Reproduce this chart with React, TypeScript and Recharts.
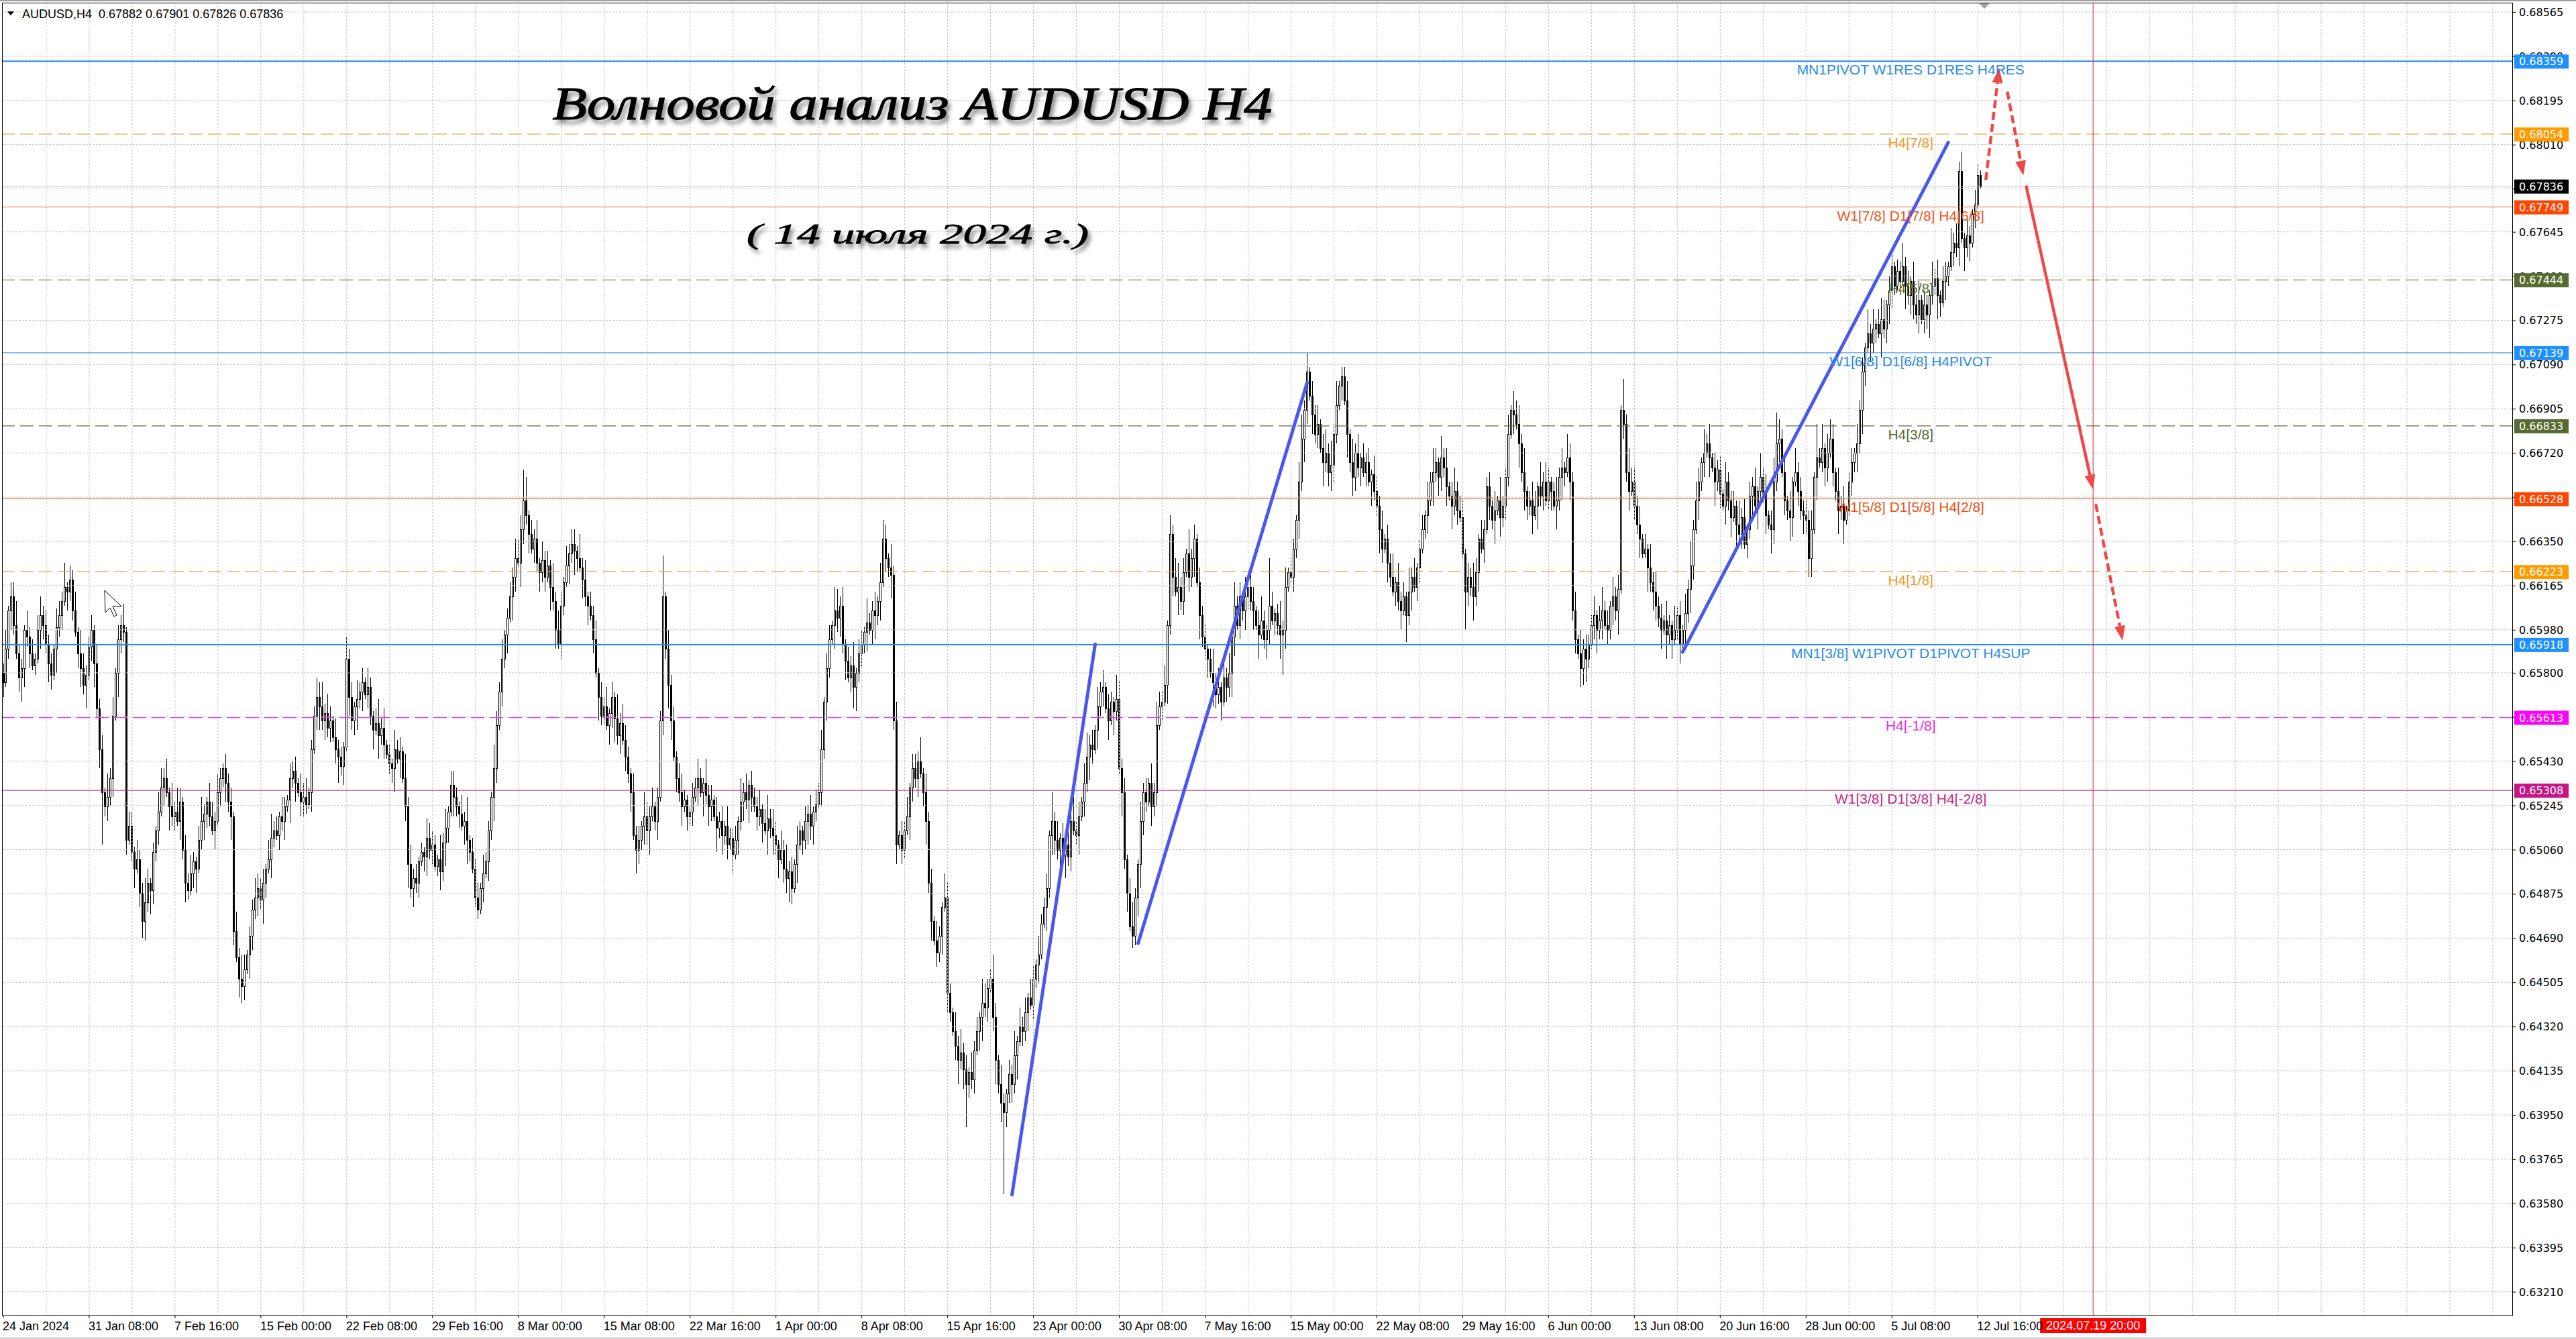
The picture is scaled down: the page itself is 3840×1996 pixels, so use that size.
import React from 'react';
import {
  ComposedChart,
  Bar,
  XAxis,
  YAxis,
  ReferenceLine,
  ReferenceDot,
} from 'recharts';

// AUDUSD H4, one slot per 4h bar starting 24 Jan 2024 00:00; slots past the last bar are the empty future area
const SLOTS = 936;
const FIRST_OPEN = 6580;
const WICK_PIPS_PER_DIGIT = 2;

// closes in pips (price * 10000), 16 bars per row
const closePips: number[] = [
  6576, 6590, 6606, 6612, 6600, 6588, 6578, 6582, 6598, 6595, 6588, 6583, 6586, 6598, 6604, 6600,
  6592, 6584, 6579, 6590, 6599, 6604, 6610, 6616, 6614, 6619, 6606, 6597, 6588, 6582, 6575, 6579,
  6591, 6598, 6584, 6565, 6548, 6530, 6524, 6528, 6536, 6562, 6580, 6594, 6600, 6597, 6510, 6516,
  6505, 6498, 6502, 6488, 6476, 6484, 6492, 6489, 6505, 6514, 6522, 6532, 6536, 6530, 6524, 6520,
  6522, 6518, 6526, 6506, 6492, 6489, 6496, 6501, 6498, 6510, 6518, 6521, 6526, 6520, 6514, 6518,
  6530, 6536, 6540, 6534, 6526, 6520, 6472, 6461, 6452, 6449, 6456, 6462, 6470, 6481, 6486, 6490,
  6485, 6492, 6498, 6502, 6511, 6514, 6512, 6520, 6518, 6524, 6527, 6536, 6539, 6534, 6530, 6526,
  6528, 6525, 6530, 6548, 6562, 6570, 6566, 6560, 6563, 6557, 6560, 6553, 6548, 6545, 6541, 6549,
  6586, 6570, 6560, 6566, 6569, 6572, 6576, 6571, 6574, 6562, 6556, 6559, 6554, 6557, 6550, 6546,
  6542, 6540, 6548, 6544, 6547, 6536, 6524, 6500, 6490, 6494, 6492, 6501, 6505, 6503, 6511, 6506,
  6508, 6499, 6502, 6497, 6509, 6515, 6522, 6533, 6528, 6524, 6521, 6516, 6518, 6510, 6505, 6498,
  6486, 6481, 6490, 6496, 6501, 6514, 6528, 6540, 6558, 6572, 6586, 6596, 6603, 6612, 6620, 6628,
  6626, 6640, 6652, 6646, 6638, 6632, 6636, 6626, 6622, 6627, 6620, 6625, 6616, 6610, 6598, 6592,
  6608, 6618, 6625, 6630, 6634, 6631, 6628, 6624, 6619, 6612, 6608, 6604, 6594, 6580, 6570, 6562,
  6566, 6558, 6563, 6570, 6561, 6554, 6559, 6552, 6545, 6538, 6530, 6512, 6506, 6510, 6516, 6520,
  6514, 6520, 6524, 6518, 6528, 6560, 6612, 6590, 6575, 6560, 6545, 6536, 6530, 6524, 6527, 6520,
  6522, 6528, 6532, 6536, 6530, 6534, 6529, 6524, 6527, 6520, 6515, 6518, 6512, 6516, 6508, 6511,
  6504, 6510, 6518, 6526, 6530, 6527, 6533, 6528, 6524, 6520, 6523, 6517, 6514, 6519, 6515, 6512,
  6508, 6502, 6506, 6498, 6494, 6497, 6490, 6500, 6508, 6514, 6510, 6518, 6521, 6516, 6522, 6525,
  6530, 6548, 6568, 6582, 6594, 6600, 6606, 6603, 6608, 6592, 6585, 6578, 6583, 6574, 6580, 6588,
  6592, 6597, 6601, 6598, 6606, 6604, 6610, 6618, 6636, 6628, 6624, 6621, 6560, 6508, 6512, 6506,
  6514, 6520, 6532, 6540, 6536, 6543, 6538, 6530, 6518, 6492, 6476, 6468, 6463, 6470, 6482, 6486,
  6446, 6438, 6430, 6424, 6418, 6421, 6414, 6408, 6413, 6410, 6422, 6430, 6436, 6442, 6440, 6448,
  6452, 6436, 6418, 6408, 6400, 6396, 6404, 6412, 6408, 6420, 6426, 6432, 6430, 6438, 6444, 6441,
  6452, 6458, 6462, 6475, 6482, 6490, 6512, 6518, 6510, 6506, 6511, 6504, 6508, 6503, 6518, 6514,
  6512, 6520, 6526, 6534, 6545, 6550, 6548, 6556, 6566, 6572, 6574, 6565, 6560, 6568, 6564, 6569,
  6540, 6530, 6502, 6488, 6474, 6470, 6486, 6500, 6518, 6530, 6526, 6534, 6524, 6530, 6558, 6566,
  6568, 6575, 6600, 6638, 6620, 6614, 6616, 6610, 6622, 6630, 6620, 6628, 6636, 6618, 6604, 6595,
  6590, 6586, 6580, 6576, 6571, 6574, 6568, 6578, 6574, 6580, 6595, 6608, 6600, 6612, 6606, 6612,
  6616, 6610, 6606, 6600, 6596, 6602, 6594, 6598, 6608, 6602, 6605, 6600, 6596, 6598, 6616, 6622,
  6620, 6632, 6644, 6660, 6678, 6690, 6706, 6696, 6688, 6680, 6684, 6674, 6668, 6672, 6664, 6667,
  6680, 6692, 6700, 6704, 6694, 6680, 6668, 6662, 6672, 6666, 6670, 6664, 6668, 6660, 6663, 6656,
  6650, 6640, 6632, 6636, 6626, 6620, 6614, 6618, 6610, 6606, 6612, 6604, 6614, 6620, 6616, 6624,
  6632, 6640, 6646, 6652, 6660, 6664, 6668, 6662, 6670, 6666, 6658, 6654, 6650, 6656, 6648, 6645,
  6630, 6614, 6620, 6616, 6612, 6622, 6636, 6632, 6640, 6658, 6650, 6644, 6648, 6652, 6645, 6650,
  6662, 6680, 6690, 6688, 6684, 6676, 6664, 6656, 6650, 6652, 6646, 6650, 6658, 6654, 6660, 6652,
  6660, 6656, 6650, 6652, 6662, 6666, 6664, 6670, 6660, 6606, 6594, 6588, 6582, 6590, 6586, 6592,
  6600, 6604, 6598, 6602, 6606, 6600, 6598, 6608, 6612, 6606, 6615, 6690, 6684, 6664, 6656, 6660,
  6650, 6642, 6636, 6630, 6632, 6624, 6618, 6614, 6608, 6603, 6598, 6602, 6596, 6600, 6594, 6598,
  6604, 6592, 6598, 6605, 6615, 6625, 6640, 6652, 6660, 6668, 6672, 6676, 6670, 6666, 6660, 6665,
  6655, 6650, 6660, 6652, 6645, 6650, 6642, 6638, 6645, 6634, 6640, 6654, 6658, 6650, 6656, 6662,
  6655, 6646, 6642, 6640, 6660, 6676, 6678, 6664, 6652, 6648, 6645, 6660, 6664, 6656, 6648, 6646,
  6644, 6628, 6640, 6662, 6670, 6668, 6674, 6666, 6672, 6678, 6664, 6656, 6648, 6650, 6644, 6648,
  6660, 6668, 6672, 6676, 6690, 6706, 6716, 6722, 6718, 6724, 6726, 6722, 6728, 6724, 6734, 6740,
  6750, 6742, 6748, 6744, 6750, 6742, 6738, 6744, 6734, 6730, 6736, 6728, 6734, 6730, 6738, 6742,
  6745, 6738, 6735, 6744, 6746, 6750, 6756, 6760, 6758, 6790, 6762, 6758, 6763, 6760, 6772, 6776,
  6788.2, 6783.6,
];

// upper / lower shadow length per bar, in steps of WICK_PIPS_PER_DIGIT pips
const upperWicks = [
  '2413352214231342', '3221432513241532', '2314231524132213', '3142253121432415',
  '2531324213521432', '4213231425312243', '2314523142132314', '3412213524314221',
  '5231423142135241', '2142315242312143', '3215241332142513', '2314221532412324',
  '4325132414231524', '3142321524132413', '2413152432142315', '3241225142313421',
  '1324215231423142', '2315241322413524', '3142523142132413', '2413315224132513',
  '3152241423152413', '2413325142314215', '3214252314231542', '2531421325142314',
  '3142231524132431', '2314523142413215', '4231352142314253', '2413245231524132',
  '3125241324152314', '2431352143125241', '3214524132413525', '2513241524132314',
  '3241325142315241', '2314253142413523', '4132531422314152', '2413342512431524',
  '3125241432415232', '2413523142314253', '3241315242314215', '2314252431524132',
  '3142231524132415', '2413524231415232', '3241325142315241', '2314231524132413',
  '3142523142413215', '2413315242314213', '21',
].join('');

const lowerWicks = [
  '3124213542312143', '2431523142213425', '1352412324153231', '2413142532314152',
  '3142421351243214', '1324253142315324', '2531421324152413', '3214135242313524',
  '1423524132415231', '2351413524231342', '3124253142314521', '2413142531324153',
  '1532413242315241', '3214253142413152', '2143524132415324', '3512413254132413',
  '2314152431524231', '4132425313241524', '2413352141325342', '1324215342413152',
  '3241352413252413', '2153241352413241', '4213524132314523', '1352413242513241',
  '3241152432415231', '2413253142314152', '1524132453214231', '3142415231324152',
  '2415324132541324', '3241512431325241', '1324253142315234', '4213152432413152',
  '2531421324152413', '3124152432415231', '1432524131325142', '3214152432415231',
  '2413253142314152', '1352413242513241', '3241152432415231', '2413253142314152',
  '3142415231324152', '2415324132541324', '3241512431325241', '1324253142315234',
  '4213152432413152', '2531421324152413', '12',
].join('');

// [bar, high pips, low pips] for the long shadows
const wickSpikes: [number, number | null, number | null][] = [
  [37, null, 6508], [45, 6609, null], [52, null, 6469], [59, 6540, null], [68, null, 6484],
  [89, null, 6442], [117, 6578, null], [125, null, 6534], [128, 6595, null], [177, null, 6477],
  [194, 6665, null], [213, 6640, null], [246, 6629, null], [294, null, 6483], [311, 6615, null],
  [317, null, 6565], [328, 6644, null], [359, null, 6390], [368, 6456, null], [373, null, 6362],
  [391, 6530, null], [399, 6528, null], [410, 6581, null], [421, null, 6465], [435, 6646, null],
  [444, 6642, null], [454, null, 6560], [472, 6628, null], [477, null, 6579], [486, 6714, null],
  [499, 6708, null], [523, null, 6593], [536, 6679, null], [545, null, 6598], [563, 6698, null],
  [579, null, 6640], [583, 6680, null], [589, null, 6575], [604, 6703, null], [622, null, 6586],
  [661, 6689, null], [673, null, 6620], [676, 6684, null], [681, 6686, null], [686, null, 6634],
  [700, 6737, null], [706, 6753, null], [717, null, 6724], [730, 6798, null], [736, 6793, null],
  [737, 6790.1, 6782.6],
];

const timeTickBars = [
  0, 32, 64, 96, 128, 160, 192, 224, 256, 288, 320, 352,
  384, 416, 448, 480, 512, 544, 576, 608, 640, 672, 704, 736,
];
const timeLabels = [
  '24 Jan 2024', '31 Jan 08:00', '7 Feb 16:00', '15 Feb 00:00', '22 Feb 08:00', '29 Feb 16:00',
  '8 Mar 00:00', '15 Mar 08:00', '22 Mar 16:00', '1 Apr 00:00', '8 Apr 08:00', '15 Apr 16:00',
  '23 Apr 00:00', '30 Apr 08:00', '7 May 16:00', '15 May 00:00', '22 May 08:00', '29 May 16:00',
  '6 Jun 00:00', '13 Jun 08:00', '20 Jun 16:00', '28 Jun 00:00', '5 Jul 08:00', '12 Jul 16:00',
];

const priceTicks = [
  0.68565, 0.6838, 0.68195, 0.6801, 0.67825, 0.67645, 0.6746, 0.67275, 0.6709, 0.66905,
  0.6672, 0.66535, 0.6635, 0.66165, 0.6598, 0.658, 0.65615, 0.6543, 0.65245, 0.6506,
  0.64875, 0.6469, 0.64505, 0.6432, 0.64135, 0.6395, 0.63765, 0.6358, 0.63395, 0.6321,
];

const levelPrices = [
  0.68359, 0.68054, 0.67836, 0.67749, 0.67444, 0.67139, 0.66833, 0.66528, 0.66223, 0.65918, 0.65613, 0.65308,
];
const levelNames = [
  'MN1PIVOT W1RES D1RES H4RES', 'H4[7/8]', '', 'W1[7/8] D1[7/8] H4[6/8]', 'H4[5/8]',
  'W1[6/8] D1[6/8] H4PIVOT', 'H4[3/8]', 'W1[5/8] D1[5/8] H4[2/8]', 'H4[1/8]',
  'MN1[3/8] W1PIVOT D1PIVOT H4SUP', 'H4[-1/8]', 'W1[3/8] D1[3/8] H4[-2/8]',
];
const levelKinds = [
  'pivotMajor', 'eighthOrange', 'bid', 'weekly', 'eighthOlive', 'pivot',
  'eighthOlive', 'weekly', 'eighthOrange', 'pivotMajor', 'eighthMagenta', 'weeklyLow',
];
const LEVEL_LABEL_BAR = 711;

// hand drawn wave lines and forecast arrows: [bar, price]
const waveLines: [number, number][][] = [
  [[376, 0.63616], [407, 0.6592]],
  [[423, 0.64668], [486, 0.67014]],
  [[626, 0.65887], [725, 0.68019]],
];
const forecastArrows: { from: [number, number]; to: [number, number]; dashed: boolean }[] = [
  { from: [739, 0.67862], to: [744, 0.6833], dashed: true },
  { from: [747, 0.68232], to: [753, 0.67881], dashed: true },
  { from: [754, 0.67839], to: [779, 0.66567], dashed: false },
  { from: [780, 0.66506], to: [790, 0.65935], dashed: true },
];
const CURSOR_BAR = 779;
const CURSOR_LABEL = '2024.07.19 20:00';

const levelStyles: Record<string, { line: string; width: number; dash?: string; tag: string; text: string }> = {
  pivotMajor: { line: '#2a8be6', width: 2, tag: '#1e90ff', text: '#2a8be6' },
  pivot: { line: '#2a8be6', width: 1, tag: '#1e90ff', text: '#2a8be6' },
  eighthOrange: { line: '#e8a33c', width: 1.2, dash: '20 8', tag: '#ff9a00', text: '#ef9a2a' },
  eighthOlive: { line: '#6b6b40', width: 1.2, dash: '20 8', tag: '#556b2f', text: '#556b2f' },
  eighthMagenta: { line: '#e040e0', width: 1.2, dash: '20 8', tag: '#ff00ff', text: '#e62ee6' },
  weekly: { line: '#e06a34', width: 1, tag: '#ff4500', text: '#ea5418' },
  weeklyLow: { line: '#b8307f', width: 1, tag: '#c71585', text: '#c0287f' },
  bid: { line: '#c0c0c0', width: 1, tag: '#000000', text: '#000000' },
};

const ARIAL = "'Liberation Sans', Arial, sans-serif";
const VERDANA = "'DejaVu Sans', Verdana, sans-serif";

const candles = closePips.map((c, i) => {
  const o = i === 0 ? FIRST_OPEN : closePips[i - 1];
  let h = Math.max(o, c) + Number(upperWicks[i] ?? '2') * WICK_PIPS_PER_DIGIT;
  let l = Math.min(o, c) - Number(lowerWicks[i] ?? '2') * WICK_PIPS_PER_DIGIT;
  const spike = wickSpikes.find((s) => s[0] === i);
  if (spike) {
    if (spike[1] != null) h = Math.max(spike[1], Math.max(o, c));
    if (spike[2] != null) l = Math.min(spike[2], Math.min(o, c));
  }
  return { i, o: o / 1e4, c: c / 1e4, h: h / 1e4, l: l / 1e4, range: [l / 1e4, h / 1e4] };
});

const chartData = Array.from({ length: SLOTS }, (_, i) => candles[i] ?? { i });
const gridBars = Array.from({ length: 58 }, (_, k) => 16 * (k + 1));

function Candle(props: any) {
  const { x, y, width, height, payload } = props;
  if (!payload || payload.o === undefined || !Number.isFinite(y) || !Number.isFinite(height)) return <g />;
  const top = Math.min(y, y + height);
  const bottom = Math.max(y, y + height);
  const k = (bottom - top) / (payload.h - payload.l || 1e-9);
  const py = (v: number) => top + (payload.h - v) * k;
  const col = Math.round(x + width / 2);
  const bTop = Math.round(py(Math.max(payload.o, payload.c)));
  const bBot = Math.round(py(Math.min(payload.o, payload.c)));
  const bull = payload.c > payload.o;
  return (
    <g>
      <line x1={col + 0.5} x2={col + 0.5} y1={Math.round(top)} y2={Math.round(bottom)} stroke="#000" strokeWidth={1} />
      <rect
        x={col - 0.5}
        y={bTop + 0.5}
        width={2}
        height={Math.max(bBot - bTop, 0)}
        fill={bull ? '#fff' : '#000'}
        stroke="#000"
        strokeWidth={1}
      />
    </g>
  );
}

const priceTickLabel = (price: number) => (p: any) => {
  const vb = p.viewBox || {};
  const right = (vb.x ?? 0) + (vb.width ?? 0);
  const cy = vb.y ?? 0;
  return (
    <g>
      <line x1={right} x2={right + 4} y1={cy + 0.5} y2={cy + 0.5} stroke="#000" strokeWidth={1} />
      <text x={right + 9} y={cy + 6} fill="#000" fontSize={16} fontFamily={VERDANA}>
        {price.toFixed(5)}
      </text>
    </g>
  );
};

const priceTag = (price: number, bg: string) => (p: any) => {
  const vb = p.viewBox || {};
  const right = (vb.x ?? 0) + (vb.width ?? 0);
  const cy = vb.y ?? 0;
  return (
    <g>
      <rect x={right + 2} y={cy - 10} width={81} height={21} fill={bg} />
      <text x={right + 9} y={cy + 6} fill="#fff" fontSize={16} fontFamily={VERDANA}>
        {price.toFixed(5)}
      </text>
    </g>
  );
};

const timeTag = (p: any) => {
  const vb = p.viewBox || {};
  const cx = vb.x ?? 0;
  const bottom = (vb.y ?? 0) + (vb.height ?? 0);
  return (
    <g>
      <rect x={cx - 79} y={bottom + 4} width={158} height={22} fill="#ff0000" />
      <text x={cx} y={bottom + 21} textAnchor="middle" fill="#fff" fontSize={18} fontFamily={ARIAL}>
        {CURSOR_LABEL}
      </text>
    </g>
  );
};

const waveShape = (p: any) => (
  <line x1={p.x1} y1={p.y1} x2={p.x2} y2={p.y2} stroke="#4a58ee" strokeWidth={5} strokeLinecap="round" />
);

const arrowShape = (dashed: boolean) => (p: any) => {
  const { x1, y1, x2, y2 } = p;
  const dx = x2 - x1;
  const dy = y2 - y1;
  const len = Math.hypot(dx, dy) || 1;
  const ux = dx / len;
  const uy = dy / len;
  const head = 22;
  const half = 8;
  const bx = x2 - ux * head;
  const by = y2 - uy * head;
  return (
    <g>
      <line x1={x1} y1={y1} x2={bx} y2={by} stroke="#f04848" strokeWidth={4.5} strokeDasharray={dashed ? '12 6' : undefined} />
      <polygon points={`${x2},${y2} ${bx - uy * half},${by + ux * half} ${bx + uy * half},${by - ux * half}`} fill="#f04848" />
    </g>
  );
};

const TimeTick = (p: any) => {
  const idx = timeTickBars.indexOf(Number(p.payload?.value));
  if (idx < 0) return <g />;
  return (
    <text x={p.x - 1} y={p.y + 16} fontSize={18} fontFamily={ARIAL} fill="#000">
      {timeLabels[idx]}
    </text>
  );
};

export default function App() {
  return (
    <div style={{ position: 'absolute', left: 0, top: 0, width: 3840, height: 1996, background: '#fff' }}>
      <ComposedChart
        width={3840}
        height={1996}
        data={chartData}
        margin={{ top: 4, right: 0, bottom: 0, left: 3 }}
        barCategoryGap={0}
      >
        <XAxis
          dataKey="i"
          type="category"
          ticks={timeTickBars}
          interval={0}
          height={35}
          axisLine={false}
          tickLine={{ stroke: '#000' }}
          tickSize={4}
          tick={<TimeTick />}
        />
        <YAxis
          orientation="right"
          type="number"
          domain={[0.631106, 0.68604]}
          allowDataOverflow
          ticks={priceTicks}
          width={94}
          axisLine={false}
          tickLine={false}
          tick={false}
        />
        {gridBars.map((b) => (
          <ReferenceLine key={`g${b}`} x={b} stroke="#c4c4c4" strokeDasharray="3 2" />
        ))}
        {priceTicks.map((t) => (
          <ReferenceLine key={`t${t}`} y={t} stroke="#c4c4c4" strokeDasharray="3 2" label={priceTickLabel(t)} />
        ))}
        {levelPrices.map((p, i) => {
          const s = levelStyles[levelKinds[i]];
          return (
            <ReferenceLine
              key={`lv${i}`}
              y={p}
              stroke={s.line}
              strokeWidth={s.width}
              strokeDasharray={s.dash}
              label={priceTag(p, s.tag)}
            />
          );
        })}
        <ReferenceLine x={CURSOR_BAR} stroke="#d42a2a" strokeWidth={1} label={timeTag} />
        <Bar dataKey="range" barSize={3} shape={(p: any) => <Candle {...p} />} isAnimationActive={false} />
        {levelPrices.map((p, i) =>
          levelNames[i] ? (
            <ReferenceDot
              key={`ln${i}`}
              x={LEVEL_LABEL_BAR}
              y={p}
              r={0}
              fill="none"
              stroke="none"
              label={{
                value: levelNames[i],
                position: 'bottom',
                offset: 5,
                fill: levelStyles[levelKinds[i]].text,
                fontSize: 21,
                fontFamily: ARIAL,
              }}
            />
          ) : null,
        )}
        {waveLines.map((seg, i) => (
          <ReferenceLine
            key={`w${i}`}
            segment={[{ x: seg[0][0], y: seg[0][1] }, { x: seg[1][0], y: seg[1][1] }]}
            shape={waveShape}
          />
        ))}
        {forecastArrows.map((a, i) => (
          <ReferenceLine
            key={`a${i}`}
            segment={[{ x: a.from[0], y: a.from[1] }, { x: a.to[0], y: a.to[1] }]}
            shape={arrowShape(a.dashed)}
          />
        ))}
      </ComposedChart>
      <svg
        width={3840}
        height={1996}
        style={{ position: 'absolute', left: 0, top: 0, pointerEvents: 'none' }}
      >
        <defs>
          <filter id="titleShadow" x="-5%" y="-30%" width="110%" height="180%">
            <feDropShadow dx="4" dy="6" stdDeviation="3" floodColor="#000" floodOpacity="0.45" />
          </filter>
        </defs>
        <rect x={0} y={0} width={3840} height={2} fill="#a0a0a0" />
        <rect x={0} y={1993} width={3840} height={3} fill="#dcdcdc" />
        <rect x={3.5} y={4.5} width={3742} height={1956.5} fill="none" stroke="#000" strokeWidth={1} />
        <polygon points="2950,5 2966,5 2958,13" fill="#a0a0a0" />
        <polygon points="11,17 21,17 16,23" fill="#000" />
        <text x={33} y={27} fontSize={18} fontFamily={ARIAL} fill="#000">
          AUDUSD,H4{'\u00a0\u00a0'}0.67882 0.67901 0.67826 0.67836
        </text>
        <text
          x={1360}
          y={178}
          textAnchor="middle"
          fontSize={70}
          fontStyle="italic"
          fontFamily="'Liberation Serif', 'DejaVu Serif', serif"
          textLength={1073}
          lengthAdjust="spacingAndGlyphs"
          filter="url(#titleShadow)"
          fill="#000"
          stroke="#000"
          strokeWidth={1.2}
        >
          Волновой анализ AUDUSD H4
        </text>
        <text
          x={1368}
          y={363}
          textAnchor="middle"
          fontSize={42}
          fontStyle="italic"
          fontFamily="'Liberation Serif', 'DejaVu Serif', serif"
          textLength={510}
          lengthAdjust="spacingAndGlyphs"
          filter="url(#titleShadow)"
          fill="#000"
          stroke="#000"
          strokeWidth={0.8}
        >
          ( 14 июля 2024 г.)
        </text>
        <polygon
          points="156,880 157,913 164,906 170,919 174,917 168,904 181,904"
          fill="#fff"
          stroke="#000"
          strokeWidth={1}
        />
      </svg>
    </div>
  );
}
